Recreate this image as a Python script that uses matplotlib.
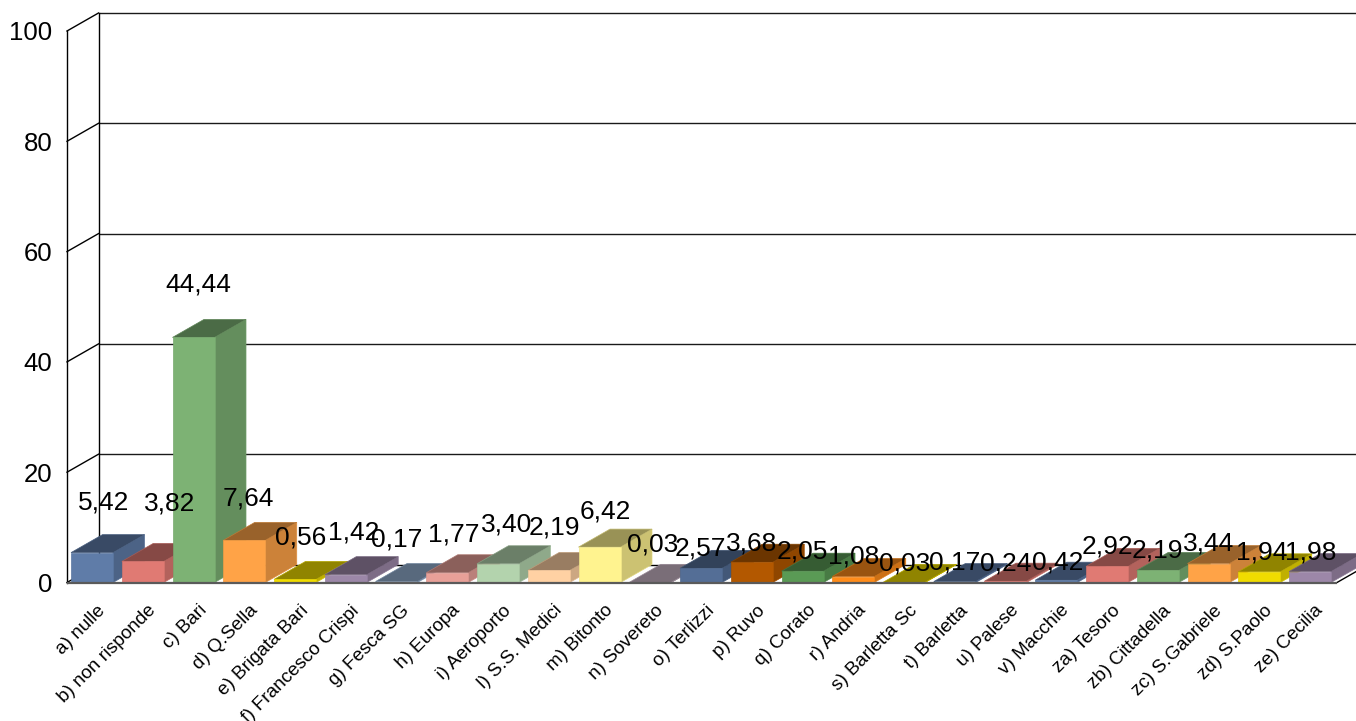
import matplotlib
matplotlib.use("Agg")
import matplotlib.pyplot as plt
from matplotlib.colors import to_rgb
from matplotlib.patches import Polygon
from matplotlib.transforms import ScaledTranslation

plt.rcParams['font.family'] = ['Liberation Sans', 'DejaVu Sans']

categories = ["a) nulle", "b) non risponde", "c) Bari", "d) Q.Sella", "e) Brigata Bari",
              "f) Francesco Crispi", "g) Fesca SG", "h) Europa", "i) Aeroporto",
              "l) S.S. Medici", "m) Bitonto", "n) Sovereto", "o) Terlizzi", "p) Ruvo",
              "q) Corato", "r) Andria", "s) Barletta Sc", "t) Barletta", "u) Palese",
              "v) Macchie", "za) Tesoro", "zb) Cittadella", "zc) S.Gabriele",
              "zd) S.Paolo", "ze) Cecilia"]
values = [5.42, 3.82, 44.44, 7.64, 0.56, 1.42, 0.17, 1.77, 3.40, 2.19, 6.42, 0.03, 2.57,
          3.68, 2.05, 1.08, 0.03, 0.17, 0.24, 0.42, 2.92, 2.19, 3.44, 1.94, 1.98]
colors = ["#5F7CA8", "#E07A73", "#7DB274", "#FFA347", "#F0DC00", "#9C87A8", "#93AFD0",
          "#E8A098", "#B3D3AD", "#FFD1A3", "#FFF38F", "#CBB7C8", "#546E96", "#B35800",
          "#5A9A55", "#FF8C1A", "#F0DC00", "#5F7CA8", "#E07A73", "#5F7CA8", "#E07A73",
          "#7DB274", "#FFA347", "#F0DC00", "#9C87A8"]
yticks = [0, 20, 40, 60, 80, 100]

# label offsets from the front-top centre of each bar, in pixels
label_dx = [12, 27, 4.5, 4, 6, 8, 0, 6, 9, 6, 5.5, 2, -1, 0, 0, 0, 1, 0, 0, 1, 0, 0, 0, 2, 1]
label_dy = [50, 58, 53, 42, 42, 42, 42, 38, 39, 43, 36, 38, 20, 19, 20, 20, 19, 19.5, 18, 18,
            19.5, 20, 20.5, 19, 19.5]

W, H = 1356, 721
fig = plt.figure(figsize=(W / 100, H / 100), dpi=100, facecolor="white")
L, R, T, B = 67, 1337, 31, 582.5
ax = fig.add_axes([L / W, 1 - B / H, (R - L) / W, (B - T) / H])
STEP = 50.75
YPX = (B - T) / 100
ax.set_xlim((L - 92) / STEP, (R - 92) / STEP)
ax.set_ylim(0, 100)
ax.patch.set_visible(False)
for s in ax.spines.values():
    s.set_visible(False)

DX, DY = 31.5 / STEP, 18 / YPX
x0, x1 = ax.get_xlim()
BW = 42 / STEP

# walls and gridlines
for v in yticks:
    ax.plot([x0 + DX, x1 + DX], [v + DY, v + DY], color="#1a1a1a" if v else "black", lw=1.0,
            clip_on=False, zorder=1, solid_capstyle="butt")
    ax.plot([x0, x0 + DX], [v, v + DY], color="black", lw=1.0, clip_on=False, zorder=1)
ax.plot([x0, x0], [0, 100], color="black", lw=1.0, clip_on=False, zorder=1)
ax.plot([x0 + DX, x0 + DX], [DY, 100 + DY], color="black", lw=1.0, clip_on=False, zorder=1)
ax.plot([x1, x1 + DX], [0, DY], color="black", lw=1.0, clip_on=False, zorder=1)


def shade(c, f):
    return tuple(min(1, ch * f) for ch in to_rgb(c))


# 3D bars, left to right so each front covers the previous side face
for i, (v, c) in enumerate(zip(values, colors)):
    a, b = i - BW / 2, i + BW / 2
    z = 2 + i * 0.01
    ax.add_patch(Polygon([(b, 0), (b + DX, DY), (b + DX, v + DY), (b, v)], fc=shade(c, .8),
                         ec=shade(c, .88), lw=.5, clip_on=False, zorder=z))
    ax.add_patch(Polygon([(a, v), (b, v), (b + DX, v + DY), (a + DX, v + DY)], fc=shade(c, .6),
                         ec=shade(c, .75), lw=.5, clip_on=False, zorder=z))
    ax.add_patch(Polygon([(a, 0), (b, 0), (b, v), (a, v)], fc=c, ec=shade(c, .95), lw=.5,
                         clip_on=False, zorder=z))

ax.plot([x0, x1], [0, 0], color="#5a5a5a", lw=1.6, clip_on=False, zorder=3,
        solid_capstyle="butt")

for i, v in enumerate(values):
    ax.annotate(f"{v:.2f}".replace(".", ","), xy=(i, v),
                xytext=(label_dx[i], label_dy[i]), textcoords="offset pixels",
                ha="center", va="center", fontsize=19, color="black", zorder=5,
                annotation_clip=False)

ax.set_yticks(yticks)
ax.set_yticklabels([str(v) for v in yticks], fontsize=18.5)
ax.tick_params(axis="y", length=0, pad=10.5)
ax.set_xticks(range(len(categories)))
ax.set_xticklabels(categories, fontsize=13.6, rotation=45, ha="right", va="center",
                   rotation_mode="anchor")
ax.tick_params(axis="x", length=0, pad=0)
shift = ScaledTranslation(10.5 / 100, -25.5 / 100, fig.dpi_scale_trans)
for t in ax.get_xticklabels():
    t.set_transform(t.get_transform() + shift)

fig.savefig("out.png", dpi=100)
